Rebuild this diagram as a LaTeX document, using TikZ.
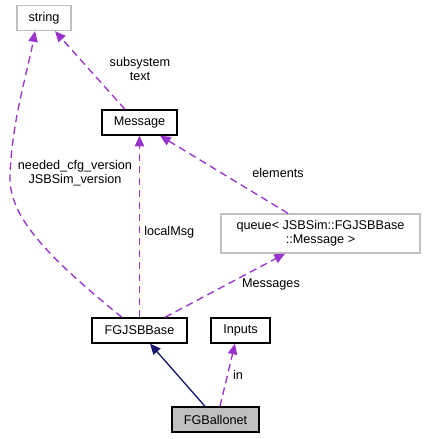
\documentclass[tikz,border=0pt]{standalone}
\usepackage{fontspec}
\setmainfont{Liberation Sans}
\usepackage{xcolor}
\usetikzlibrary{arrows.meta}
\definecolor{relpurple}{HTML}{9A32CD}
\definecolor{relnavy}{HTML}{191970}
\definecolor{extgray}{HTML}{BFBFBF}
\tikzset{
    cls/.style={draw=black, line width=1pt, inner sep=0pt, minimum height=18.75pt, align=center},
    extcls/.style={cls, draw=extgray},
    usedby/.style={relpurple, line width=1pt, dash pattern=on 5.5pt off 3.5pt,
                   -{Triangle[length=8pt,width=7pt]}},
    inherits/.style={relnavy, line width=1pt, -{Triangle[length=8pt,width=7pt]}},
    lbl/.style={align=center, inner sep=0pt, font=\fontsize{9.5}{10.5}\selectfont},
}

\begin{document}
\begin{tikzpicture}[x=0.75pt, y=-0.75pt, font=\fontsize{9.5}{10.5}\selectfont]
    \useasboundingbox (0,0) rectangle (426,439);
    % classes
    \node[extcls, minimum width=40.5pt] (string) at (44,18) {string};
    \node[cls, minimum width=56.25pt] (message) at (139.5,122.5) {Message};
    \node[extcls, minimum width=149.25pt, minimum height=29.25pt] (queue) at (320.5,233.5) {queue< JSBSim::FGJSBBase\\::Message >};
    \node[cls, minimum width=71.25pt] (jsbbase) at (139.5,330.5) {FGJSBBase};
    \node[cls, minimum width=44.25pt] (inputs) at (240.5,330.5) {Inputs};
    \node[cls, fill=extgray, minimum width=65.25pt] (ballonet) at (215.5,419.5) {FGBallonet};
    % relations
    \draw[usedby] (125,0 |- message.north) -- (55,0 |- string.south);
    \draw[usedby] (122,0 |- jsbbase.north) .. controls (45,255) and (8,215) .. (10,175)
                  .. controls (12,120) and (28,70) .. (35,0 |- string.south);
    \draw[usedby] (jsbbase.north) -- (message.south);
    \draw[usedby] (288,0 |- queue.north) -- (160,0 |- message.south);
    \draw[usedby] (165,0 |- jsbbase.north) -- (285,0 |- queue.south);
    \draw[inherits] (205,0 |- ballonet.north) -- (150,0 |- jsbbase.south);
    \draw[usedby] (220,0 |- ballonet.north) -- (235,0 |- inputs.south);
    % labels
    \node[lbl] (lsub) at (140,69) {subsystem\\text};
    \node[lbl] (lver) at (75,173) {needed\_cfg\_version\\JSBSim\_version};
    \node[lbl, anchor=west] (lloc) at (144,232) {localMsg};
    \node[lbl] (lelem) at (278,173) {elements};
    \node[lbl] (lmsgs) at (271,284) {Messages};
    \node[lbl] (lin) at (238,375) {in};
\end{tikzpicture}
\end{document}
